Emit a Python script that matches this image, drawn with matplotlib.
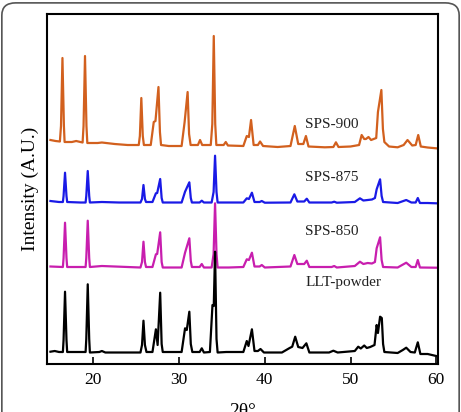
import matplotlib
matplotlib.use("Agg")
import matplotlib.pyplot as plt
from matplotlib.patches import FancyBboxPatch

# 2theta (deg) and stacked intensity (a.u.), one vertex per point
sps900_2theta = [15.0, 15.6, 16.1, 16.23, 16.4, 16.57, 16.65, 17.5, 18.0, 18.75, 18.86, 19.03, 19.2, 19.3,
                 20.5, 21.0, 22.5, 24.0, 25.3, 25.43, 25.6, 25.77, 25.9, 26.7, 27.05, 27.25, 27.6, 27.77,
                 27.9, 28.8, 30.3, 30.65, 31.0, 31.17, 31.35, 32.2, 32.45, 32.7, 33.7, 33.88, 34.05, 34.22,
                 34.35, 35.2, 35.45, 35.7, 37.5, 37.9, 38.15, 38.4, 38.7, 39.2, 39.45, 39.8, 41.5, 43.0,
                 43.5, 43.9, 44.5, 44.8, 45.1, 47.0, 48.0, 48.3, 48.6, 50.0, 51.0, 51.3, 51.6, 51.8,
                 52.1, 52.4, 52.7, 53.0, 53.2, 53.6, 53.78, 53.95, 54.5, 55.5, 56.2, 56.65, 57.2, 57.6,
                 57.9, 58.2, 59.0, 60.0]
sps900_int = [224, 223, 222.5, 238, 306, 238, 222, 222, 223, 221.5, 238, 308, 238, 221,
              221, 221.5, 220, 219, 219, 228, 266, 228, 219, 219, 242, 243, 277, 232,
              219, 218, 218, 242, 272, 230, 219, 219, 224, 219, 219, 240, 328, 240,
              219, 219, 222, 218.5, 218, 228, 227, 244, 219, 219, 222.5, 218, 217, 218,
              238, 220, 220, 228, 217.5, 216.7, 217, 221.7, 217, 217.5, 219, 229, 225, 225,
              227, 224, 225, 226, 252, 274, 235, 222, 217.5, 216.7, 219, 224, 218.5, 219,
              229, 217.5, 216.5, 215.7]

sps875_2theta = [15.0, 16.0, 16.45, 16.53, 16.7, 16.87, 16.95, 18.5, 19.1, 19.18, 19.35, 19.52, 19.6, 21.0,
                 23.0, 25.5, 25.68, 25.85, 26.02, 26.15, 26.9, 27.3, 27.45, 27.8, 27.97, 28.1, 30.3, 30.7,
                 31.2, 31.37, 31.5, 32.4, 32.65, 32.9, 33.8, 34.03, 34.2, 34.37, 34.5, 35.8, 37.5, 37.9,
                 38.15, 38.5, 38.8, 39.4, 39.65, 40.0, 43.0, 43.45, 43.8, 44.6, 44.9, 45.2, 47.8, 48.1,
                 48.4, 50.5, 51.1, 51.5, 52.0, 52.5, 52.85, 53.05, 53.45, 53.63, 53.8, 55.5, 56.5, 57.1,
                 57.6, 57.85, 58.1, 59.0, 60.0]
sps875_int = [163, 162, 162, 168, 191.3, 168, 162, 161.5, 161.5, 168, 193, 168, 161.5, 162,
              161.5, 161.5, 165, 179, 165, 162, 162, 170.7, 171, 185, 166, 161.5, 161.5, 172.3,
              181.7, 166, 161.5, 161.5, 163.3, 161.5, 161.5, 172, 208.3, 172, 161.5, 161.5, 161.5, 165.7,
              165, 171.3, 162, 162, 163, 161.3, 161.5, 169.7, 162.5, 162.5, 165.3, 161.5, 161.5, 162.3,
              161.3, 162, 165.7, 163.5, 164, 164.5, 166, 174.7, 184.7, 168, 162, 161, 164, 161.5,
              161.5, 166, 161, 161, 160.7]

sps850_2theta = [15.0, 16.45, 16.53, 16.7, 16.87, 16.95, 19.1, 19.18, 19.35, 19.52, 19.6, 21.0, 25.5, 25.68,
                 25.85, 26.02, 26.15, 26.9, 27.3, 27.45, 27.8, 27.97, 28.1, 30.3, 30.7, 31.2, 31.37, 31.5,
                 32.4, 32.65, 32.9, 33.8, 34.03, 34.2, 34.37, 34.5, 35.8, 37.5, 37.9, 38.15, 38.5, 38.8,
                 39.4, 39.65, 40.0, 43.0, 43.45, 43.8, 44.6, 44.9, 45.2, 47.8, 48.1, 48.4, 50.5, 51.1,
                 51.5, 52.0, 52.5, 52.85, 53.05, 53.45, 53.63, 53.8, 55.5, 56.5, 57.1, 57.6, 57.85, 58.1,
                 60.0]
sps850_int = [97.5, 97, 106, 141.3, 106, 97, 97, 106, 143.3, 106, 97, 98, 96.5, 102,
              122.3, 102, 97, 97, 109.7, 110, 131.7, 102, 96.5, 96.5, 111.3, 125.7, 103, 97,
              97, 100, 96.5, 96.5, 110, 160.7, 110, 96.5, 96.5, 97, 104.7, 104, 111.3, 97.5,
              97.5, 99, 96.5, 97.5, 109, 100, 100, 103.3, 97, 97, 98, 96.5, 98, 102.3,
              100, 101, 100.5, 102, 115.7, 126.7, 104, 97, 96.5, 101.3, 97, 97, 104, 96.5,
              96.3]

llt_2theta = [15.0, 15.5, 16.0, 16.45, 16.53, 16.7, 16.87, 16.95, 18.0, 19.1, 19.18, 19.35, 19.52, 19.6,
              20.7, 21.0, 21.4, 25.5, 25.68, 25.85, 26.02, 26.2, 26.9, 27.3, 27.5, 27.8, 27.97, 28.1,
              30.3, 30.7, 30.9, 31.2, 31.37, 31.55, 32.4, 32.65, 32.9, 33.6, 33.9, 34.05, 34.2, 34.37,
              34.5, 35.5, 37.5, 37.9, 38.1, 38.5, 38.8, 39.2, 39.5, 39.9, 42.0, 42.9, 43.2, 43.55,
              43.9, 44.4, 44.85, 45.2, 47.5, 48.0, 48.5, 50.5, 50.9, 51.2, 51.6, 51.9, 52.3, 52.8,
              53.05, 53.2, 53.45, 53.65, 53.8, 53.95, 55.5, 56.1, 56.5, 57.0, 57.5, 57.85, 58.15, 59.0,
              60.0]
llt_int = [12.3, 13, 12, 12, 24, 72.3, 24, 12, 12, 12, 25, 79.7, 25, 11.5,
           12, 13, 11.5, 11.5, 19, 43.3, 19, 12, 12, 34.7, 19, 71.3, 20, 12,
           12, 35.7, 34, 52.3, 20, 12, 12, 15.7, 11.5, 12, 59, 58, 112.3, 25,
           11.5, 12, 12, 23, 18, 34.7, 13, 13, 15, 11.5, 11.5, 16, 17.3, 27.3,
           17, 16, 20.7, 11.5, 11.5, 13.3, 11.5, 13, 17.3, 15.5, 18.5, 16, 17, 19,
           39, 31, 47.3, 46, 20, 12, 11, 14, 16.3, 12, 11.5, 21.7, 10, 10,
           8]

# name, x, y, colour, label position (2theta, intensity)
series = [
    ("SPS-900", sps900_2theta, sps900_int, "#D2601E", (44.7, 240)),
    ("SPS-875", sps875_2theta, sps875_int, "#1A1AE6", (44.7, 186.5)),
    ("SPS-850", sps850_2theta, sps850_int, "#C81EAE", (44.7, 133)),
    ("LLT-powder", llt_2theta, llt_int, "#000000", (44.7, 81.5)),
]

plt.rcParams["font.family"] = ["Liberation Serif", "DejaVu Serif"]

fig = plt.figure(figsize=(4.61, 4.12), dpi=100)
ax = fig.add_axes([0.102, 0.1165, 0.848, 0.8495])

for name, tt, inten, color, (lx, ly) in series:
    ax.plot(tt, inten, color=color, lw=1.6, solid_joinstyle="round")
    ax.text(lx, ly, name, fontsize=11, color="#222222", va="center", ha="left")

ax.set_xlim(14.6, 60.2)
ax.set_ylim(0, 350)
ax.set_xticks([20, 30, 40, 50, 60])
ax.set_yticks([])
ax.tick_params(axis="x", direction="in", length=5, width=1.2, labelsize=12.5, pad=6)
for spine in ax.spines.values():
    spine.set_linewidth(1.5)

ax.set_ylabel("Intensity (A.U.)", fontsize=14, labelpad=6)
ax.set_xlabel("2θ°", fontsize=14)
ax.xaxis.set_label_coords(0.5, -0.112)
ax.xaxis.label.set_va("top")

frame = FancyBboxPatch((0.004, -0.1), 0.992, 1.093, boxstyle="round,pad=0,rounding_size=0.03",
                       transform=fig.transFigure, fill=False, edgecolor="#555555", lw=1.2,
                       clip_on=False)
fig.patches.append(frame)

fig.savefig("out.png", dpi=100)
